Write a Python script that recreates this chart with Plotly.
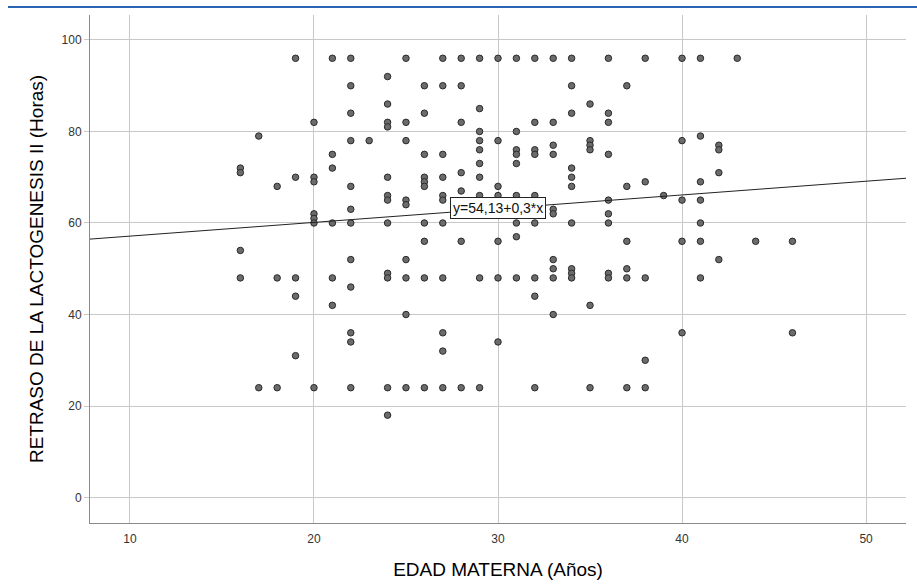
import plotly.graph_objects as go

# Data: ages (x) and lactogenesis delay hours (y) per age column
ages = [16, 17, 18, 19, 20, 21, 22, 23, 24, 25, 26, 27, 28, 29, 30, 31, 32, 33,
        34, 35, 36, 37, 38, 39, 40, 41, 42, 43, 44, 46]
hours_by_age = [
    [72, 71, 54, 48],
    [79, 24],
    [68, 48, 24],
    [96, 70, 48, 44, 31],
    [82, 70, 69, 62, 61, 60, 24],
    [96, 75, 72, 60, 48, 42],
    [96, 90, 84, 78, 68, 63, 60, 52, 46, 36, 34, 24],
    [78],
    [92, 86, 82, 81, 70, 66, 65, 60, 49, 48, 24, 18],
    [96, 82, 78, 65, 64, 52, 48, 40, 24],
    [90, 84, 75, 70, 69, 68, 60, 56, 48, 24],
    [96, 90, 75, 70, 66, 65, 60, 48, 36, 32, 24],
    [96, 90, 82, 71, 67, 56, 24],
    [96, 85, 80, 78, 76, 73, 70, 66, 48, 24],
    [96, 78, 68, 66, 56, 48, 34],
    [96, 80, 76, 75, 73, 66, 60, 57, 48],
    [96, 82, 76, 75, 66, 60, 48, 44, 24],
    [96, 82, 77, 75, 63, 62, 52, 50, 48, 40],
    [96, 90, 84, 72, 70, 68, 60, 50, 49, 48],
    [86, 78, 77, 76, 42, 24],
    [96, 84, 82, 75, 65, 62, 60, 49, 48],
    [90, 68, 56, 50, 48, 24],
    [96, 69, 48, 30, 24],
    [66],
    [96, 78, 65, 56, 36],
    [96, 79, 69, 65, 60, 56, 48],
    [77, 76, 71, 52],
    [96],
    [56],
    [56, 36],
]
intercept = 54.13
slope = 0.3
fit_label = "y=54,13+0,3*x"
x_ticks = [10, 20, 30, 40, 50]
y_ticks = [0, 20, 40, 60, 80, 100]
x_range = [7.83, 52.17]
y_range = [-5.57, 105.46]

xs, ys = [], []
for a, hs in zip(ages, hours_by_age):
    for h in hs:
        xs.append(a)
        ys.append(h)

FONT = "Liberation Sans, Arial, sans-serif"

fig = go.Figure()
fig.add_trace(go.Scatter(
    x=xs, y=ys, mode="markers",
    marker=dict(size=6.5, color="#6b6b6b", line=dict(color="#2a2a2a", width=1)),
    showlegend=False, hoverinfo="x+y",
))
fig.add_trace(go.Scatter(
    x=x_range, y=[intercept + slope * v for v in x_range], mode="lines",
    line=dict(color="#222222", width=1), showlegend=False, hoverinfo="skip",
))

fig.add_annotation(
    x=30, y=intercept + slope * 30 + 0.1, text=fit_label, showarrow=False,
    font=dict(family=FONT, size=14, color="#111"),
    bgcolor="white", bordercolor="#222", borderwidth=1, borderpad=2,
)

fig.add_shape(type="line", xref="paper", yref="paper",
              x0=-0.1005, x1=1.0135, y0=1.0157, y1=1.0157,
              line=dict(color="#2a64b4", width=2))

fig.update_layout(
    width=917, height=584,
    margin=dict(l=90, r=11, t=15, b=61),
    paper_bgcolor="white", plot_bgcolor="white",
    font=dict(family=FONT, color="#222"),
    xaxis=dict(
        range=x_range, tickvals=x_ticks, showgrid=True, gridcolor="#c8c8c8",
        gridwidth=1, zeroline=False, showline=True, linecolor="#8a8a8a",
        linewidth=1, ticks="outside", ticklen=5, tickcolor="rgba(0,0,0,0)",
        tickfont=dict(size=12, color="#333"),
        automargin=False,
        title=dict(text="EDAD MATERNA (Años)", font=dict(size=19, color="#000"),
                   standoff=17),
    ),
    yaxis=dict(
        range=y_range, tickvals=y_ticks, showgrid=True, gridcolor="#c8c8c8",
        gridwidth=1, zeroline=False, showline=True, linecolor="#8a8a8a",
        linewidth=1, ticks="outside", ticklen=5, tickcolor="#c8c8c8",
        tickfont=dict(size=12, color="#333"), automargin=False,
        title=dict(text="RETRASO DE LA LACTOGENESIS II (Horas)",
                   font=dict(size=19, color="#000"), standoff=12),
    ),
)

fig.write_html("out.html", config={"displayModeBar": False},
               post_script="document.body.style.margin='0';")
